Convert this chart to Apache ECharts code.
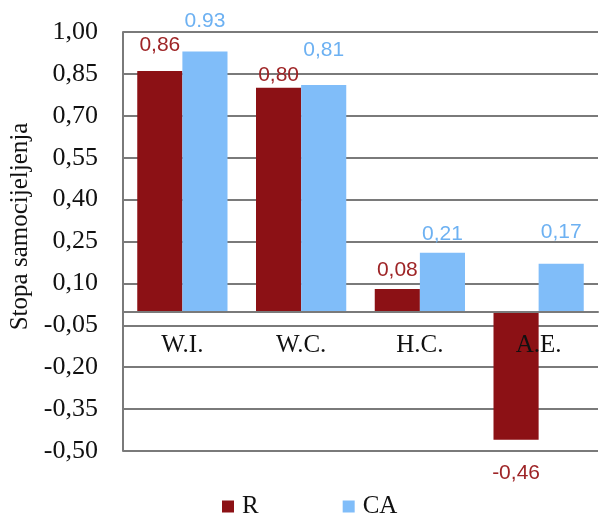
<!DOCTYPE html>
<html>
<head>
<meta charset="utf-8">
<script src="https://cdn.jsdelivr.net/npm/echarts@6/dist/echarts.min.js"></script>
<style>html,body{margin:0;padding:0;background:#fff;}#c{width:600px;height:517px;}</style>
</head>
<body>
<div id="c"></div>
<script>
var categories = ["W.I.", "W.C.", "H.C.", "A.E."];
var valuesR = [0.86, 0.80, 0.08, -0.46];
var valuesCA = [0.93, 0.81, 0.21, 0.17];
var labelsR = ["0,86", "0,80", "0,08", "-0,46"];
var labelsCA = ["0.93", "0,81", "0,21", "0,17"];
var yTicks = { min: -0.5, max: 1.0, interval: 0.15 };

// layout: label distances (px) per bar
var distR = [15, 2, 8, 23];
var distCA = [20, 24, 8, 21];

var colR = "#8C1115", colCA = "#80BDF9";
var labColR = "#9E2426", labColCA = "#6DB1F2";
var gridCol = "#7a7a7a";
var serif = "'Liberation Serif', 'DejaVu Serif', serif";

function buildData(vals, labs, dists) {
  return vals.map(function (v, i) {
    return {
      value: v,
      label: {
        position: v < 0 ? "bottom" : "top",
        distance: dists[i],
        formatter: labs[i]
      }
    };
  });
}

var chart = echarts.init(document.getElementById("c"), null, { renderer: "canvas" });
chart.setOption({
  animation: false,
  backgroundColor: "#fff",
  grid: { left: 123, right: 2, top: 32, bottom: 66, outerBoundsMode: "none", containLabel: false },
  legend: {
    top: 489,
    left: 217,
    itemWidth: 12,
    itemHeight: 12,
    itemGap: 84,
    icon: "rect",
    textStyle: { fontFamily: serif, fontSize: 25, color: "#111", padding: [0, 0, 0, 3] },
    data: ["R", "CA"]
  },
  xAxis: {
    type: "category",
    data: categories,
    z: 5,
    axisLine: { onZero: true, lineStyle: { color: gridCol, width: 2 } },
    axisTick: { show: false },
    axisLabel: { margin: -118, fontFamily: serif, fontSize: 25, color: "#111" }
  },
  yAxis: {
    type: "value",
    min: yTicks.min,
    max: yTicks.max,
    interval: yTicks.interval,
    name: "Stopa samocijeljenja",
    nameLocation: "middle",
    nameGap: 89,
    nameTextStyle: { fontFamily: serif, fontSize: 25, color: "#111", padding: [0, 0, 0, 30] },
    axisLine: { show: true, lineStyle: { color: gridCol, width: 2 } },
    axisTick: { show: false },
    splitLine: { lineStyle: { color: gridCol, width: 2 } },
    axisLabel: {
      margin: 25,
      fontFamily: serif,
      fontSize: 26,
      color: "#111",
      formatter: function (v) { return v.toFixed(2).replace(".", ","); }
    }
  },
  series: [
    {
      name: "R",
      type: "bar",
      barGap: "0%",
      barCategoryGap: "24%",
      itemStyle: { color: colR },
      label: { show: true, fontFamily: "'Liberation Sans', sans-serif", fontSize: 21, color: labColR },
      data: buildData(valuesR, labelsR, distR)
    },
    {
      name: "CA",
      type: "bar",
      barGap: "0%",
      barCategoryGap: "24%",
      itemStyle: { color: colCA },
      label: { show: true, fontFamily: "'Liberation Sans', sans-serif", fontSize: 21, color: labColCA },
      data: buildData(valuesCA, labelsCA, distCA)
    }
  ]
});
</script>
</body>
</html>
